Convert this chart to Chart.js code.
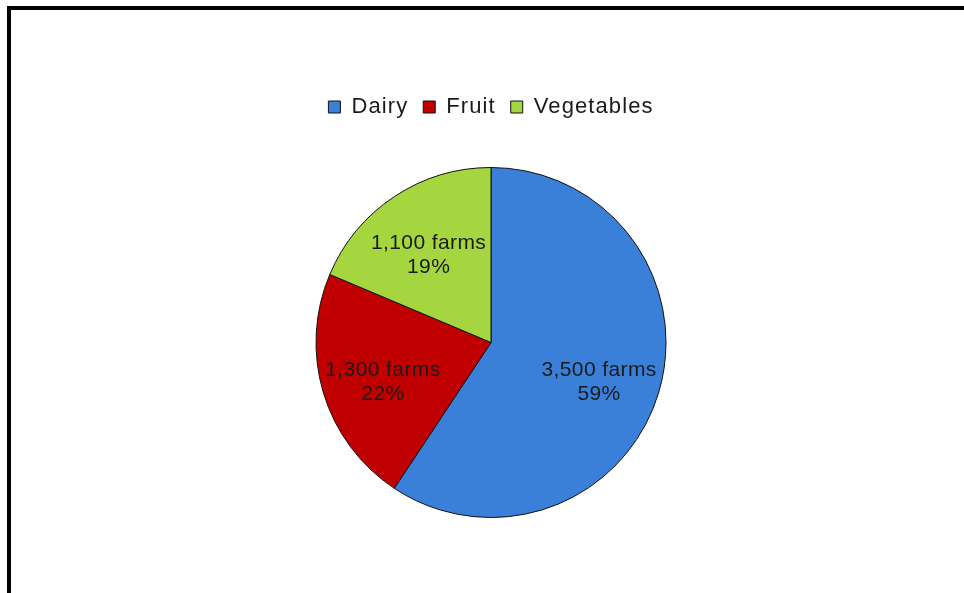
<!DOCTYPE html>
<html>
<head>
<meta charset="utf-8">
<script src="https://cdn.jsdelivr.net/npm/chart.js@4.4.0/dist/chart.umd.min.js"></script>
<style>
  html, body { margin: 0; padding: 0; background: #fff; }
  #wrap { position: relative; width: 964px; height: 593px; overflow: hidden; }
  #frame { position: absolute; left: 7px; top: 6px; width: 1200px; height: 800px;
           border-top: 4px solid #000; border-left: 4px solid #000; }
  canvas { position: absolute; left: 0; top: 0; }
</style>
</head>
<body>
<div id="wrap">
  <div id="frame"></div>
  <canvas id="farms" width="964" height="593"></canvas>
</div>
<script>
  // data
  const categories = ['Dairy', 'Fruit', 'Vegetables'];
  const farmCounts = [3500, 1300, 1100];
  const sliceColors = ['#3a80d9', '#c00000', '#a5d63f'];

  // the original text is a bit wider than Arial, so space the letters out
  const wideText = {
    id: 'wideText',
    beforeLayout(chart) { chart.ctx.letterSpacing = '1.1px'; },
    beforeDraw(chart) { chart.ctx.letterSpacing = '1.1px'; }
  };

  // labels inside slices: "3,500 farms" + "59%"
  const sliceLabels = {
    id: 'sliceLabels',
    afterDatasetsDraw(chart) {
      const ctx = chart.ctx;
      const meta = chart.getDatasetMeta(0);
      const values = chart.data.datasets[0].data;
      const total = values.reduce((a, b) => a + b, 0);
      ctx.save();
      ctx.letterSpacing = '0.4px';
      ctx.font = '21px "Liberation Sans", Arial, sans-serif';
      ctx.fillStyle = '#1a1a1a';
      ctx.textAlign = 'center';
      ctx.textBaseline = 'middle';
      meta.data.forEach((arc, i) => {
        const p = arc.getProps(['x', 'y', 'startAngle', 'endAngle', 'outerRadius'], true);
        const mid = (p.startAngle + p.endAngle) / 2;
        const r = p.outerRadius * 0.645;
        const x = p.x + Math.cos(mid) * r;
        const y = p.y + Math.sin(mid) * r + 7;
        ctx.fillText(values[i].toLocaleString('en-US') + ' farms', x, y - 12);
        ctx.fillText(Math.round(values[i] / total * 100) + '%', x, y + 12);
      });
      ctx.restore();
    }
  };

  new Chart(document.getElementById('farms'), {
    type: 'pie',
    data: {
      labels: categories,
      datasets: [{
        data: farmCounts,
        backgroundColor: sliceColors,
        borderColor: '#111',
        borderWidth: 1,
        radius: 175
      }]
    },
    options: {
      responsive: false,
      animation: false,
      layout: { padding: { top: 81, bottom: 36, left: 18, right: 0 } },
      plugins: {
        legend: {
          position: 'top',
          labels: {
            boxWidth: 12,
            boxHeight: 12,
            padding: 15,
            color: '#1a1a1a',
            font: { family: '"Liberation Sans", Arial, sans-serif', size: 22 }
          }
        },
        tooltip: { enabled: false }
      }
    },
    plugins: [wideText, sliceLabels]
  });
</script>
</body>
</html>
